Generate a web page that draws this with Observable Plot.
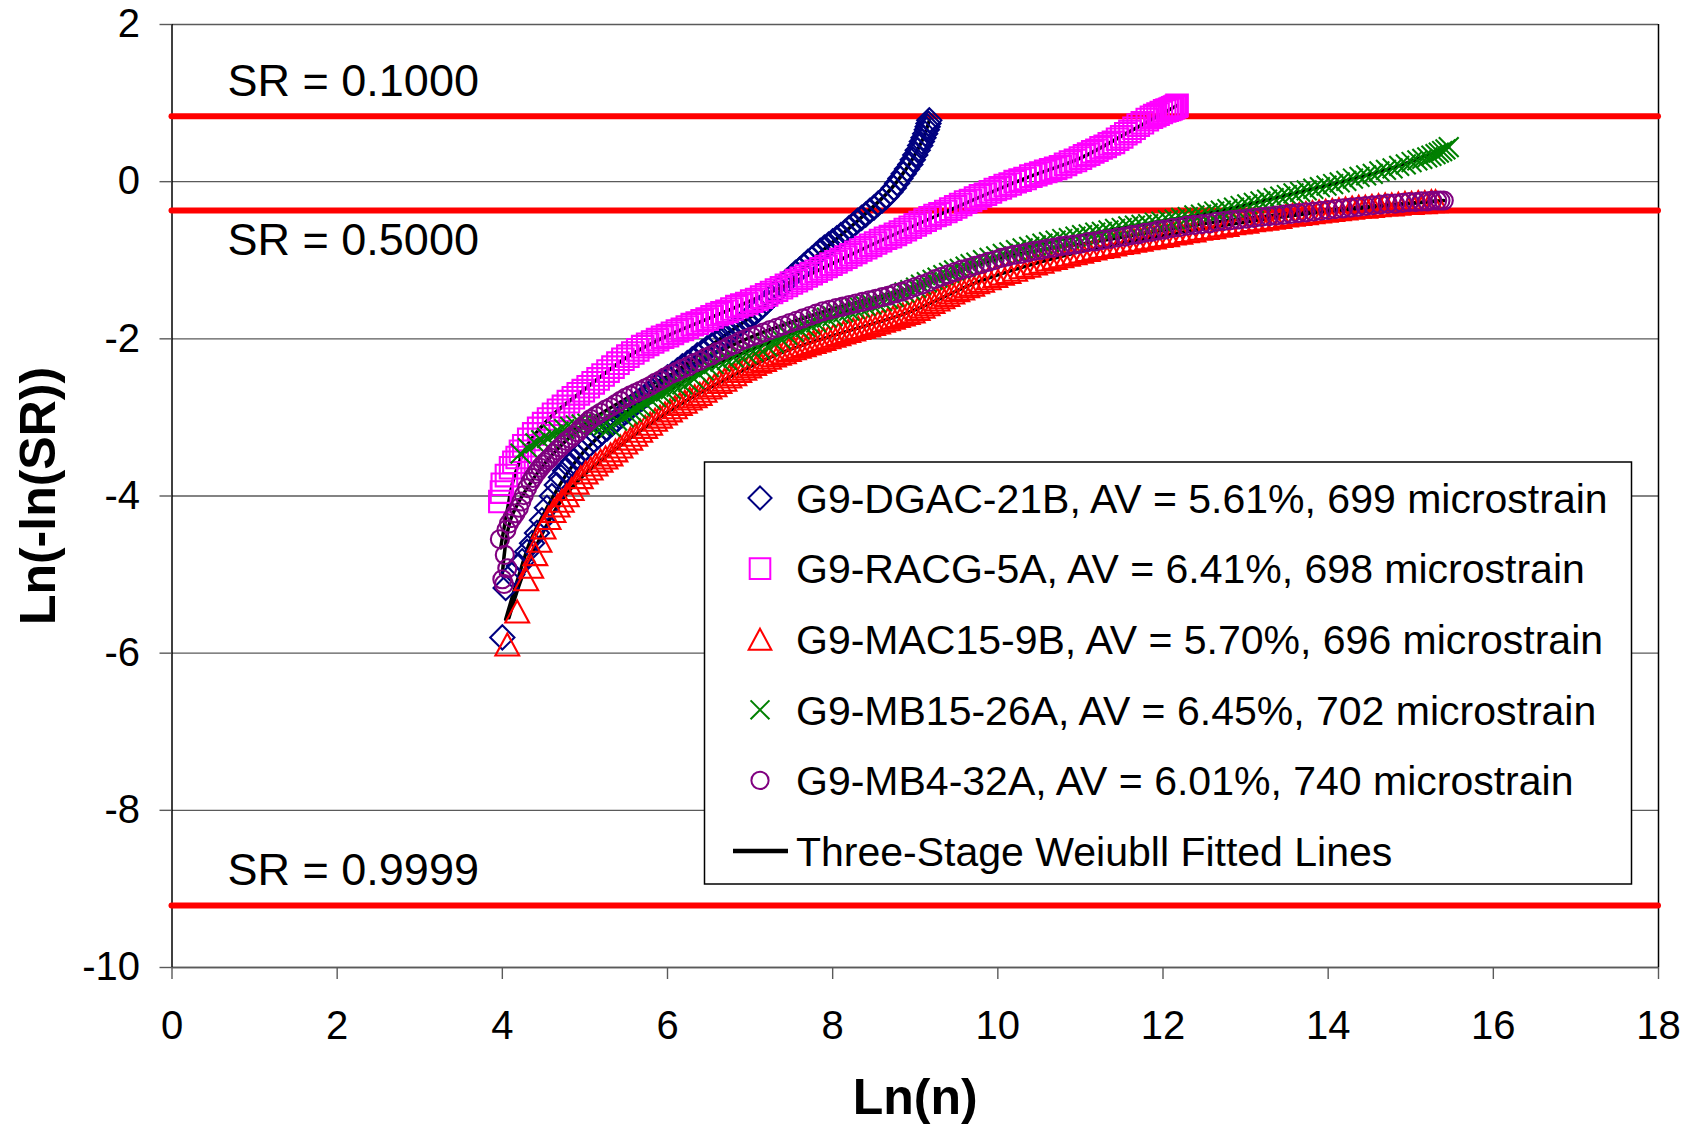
<!DOCTYPE html>
<html>
<head>
<meta charset="utf-8">
<script src="https://cdn.jsdelivr.net/npm/d3@7"></script>
<script src="https://cdn.jsdelivr.net/npm/@observablehq/plot@0.6"></script>
<style>
  html, body { margin: 0; padding: 0; background: #fff; }
  #chart { width: 1694px; height: 1127px; }
</style>
</head>
<body>
<div id="chart"></div>
<script>
// Three-stage Weibull plot of fatigue data: Ln(n) against Ln(-Ln(SR))

// Sample descriptions shown in the legend
const sampleNames = ["G9-DGAC-21B", "G9-RACG-5A", "G9-MAC15-9B", "G9-MB15-26A", "G9-MB4-32A"];
const airVoids = [5.61, 6.41, 5.70, 6.45, 6.01];
const microstrains = [699, 698, 696, 702, 740];
const fitLabel = "Three-Stage Weiubll Fitted Lines";

// Axis ticks
const xTicks = [0, 2, 4, 6, 8, 10, 12, 14, 16, 18];
const yTicks = [2, 0, -2, -4, -6, -8, -10];

// Stiffness ratio reference levels
const srLevels = [0.1, 0.5, 0.9999];

// Measured points: [Ln(n), Ln(-Ln(SR))]
const dgacPoints = [[4.00,-5.80],[4.04,-5.17],[4.12,-5.00],[4.20,-4.89],[4.24,-4.83],[4.30,-4.71],[4.36,-4.60],[4.42,-4.47],[4.48,-4.31],[4.54,-4.15],[4.60,-4.00],[4.66,-3.86],[4.71,-3.76],[4.76,-3.68],[4.81,-3.62],[4.86,-3.56],[4.91,-3.50],[4.96,-3.44],[5.01,-3.39],[5.06,-3.34],[5.11,-3.29],[5.16,-3.24],[5.21,-3.19],[5.27,-3.14],[5.33,-3.08],[5.39,-3.03],[5.45,-2.97],[5.51,-2.92],[5.57,-2.86],[5.63,-2.81],[5.69,-2.76],[5.75,-2.71],[5.81,-2.66],[5.87,-2.60],[5.93,-2.55],[6.00,-2.49],[6.06,-2.45],[6.12,-2.40],[6.18,-2.35],[6.24,-2.31],[6.30,-2.26],[6.36,-2.21],[6.42,-2.17],[6.48,-2.12],[6.54,-2.08],[6.60,-2.03],[6.65,-1.99],[6.70,-1.96],[6.75,-1.92],[6.80,-1.88],[6.85,-1.84],[6.90,-1.80],[6.95,-1.76],[7.00,-1.72],[7.05,-1.68],[7.10,-1.63],[7.15,-1.58],[7.20,-1.53],[7.25,-1.48],[7.30,-1.42],[7.35,-1.37],[7.40,-1.31],[7.45,-1.26],[7.50,-1.21],[7.55,-1.16],[7.60,-1.12],[7.65,-1.07],[7.70,-1.02],[7.75,-0.98],[7.80,-0.93],[7.85,-0.88],[7.90,-0.84],[7.95,-0.80],[8.00,-0.76],[8.05,-0.72],[8.10,-0.68],[8.15,-0.64],[8.20,-0.59],[8.25,-0.55],[8.30,-0.50],[8.35,-0.46],[8.40,-0.42],[8.45,-0.37],[8.50,-0.33],[8.55,-0.28],[8.60,-0.24],[8.65,-0.19],[8.70,-0.13],[8.74,-0.08],[8.78,-0.02],[8.82,0.04],[8.86,0.10],[8.90,0.16],[8.94,0.22],[8.97,0.28],[9.00,0.34],[9.03,0.40],[9.06,0.46],[9.08,0.51],[9.10,0.56],[9.12,0.61],[9.14,0.66],[9.15,0.70],[9.16,0.74],[9.17,0.78]];

const racgPoints = [[3.97,-4.07],[3.99,-3.95],[4.00,-3.85],[4.05,-3.74],[4.10,-3.64],[4.14,-3.57],[4.18,-3.51],[4.22,-3.43],[4.26,-3.36],[4.32,-3.28],[4.38,-3.21],[4.44,-3.14],[4.50,-3.08],[4.56,-3.02],[4.62,-2.96],[4.68,-2.91],[4.74,-2.86],[4.80,-2.80],[4.86,-2.75],[4.92,-2.70],[4.98,-2.66],[5.04,-2.61],[5.10,-2.56],[5.16,-2.51],[5.22,-2.46],[5.28,-2.41],[5.34,-2.36],[5.40,-2.31],[5.46,-2.26],[5.52,-2.22],[5.58,-2.18],[5.64,-2.14],[5.70,-2.10],[5.76,-2.07],[5.82,-2.04],[5.88,-2.01],[5.94,-1.98],[6.00,-1.96],[6.06,-1.93],[6.12,-1.90],[6.18,-1.88],[6.24,-1.85],[6.30,-1.82],[6.36,-1.80],[6.42,-1.77],[6.48,-1.75],[6.54,-1.72],[6.60,-1.69],[6.66,-1.67],[6.72,-1.65],[6.78,-1.62],[6.84,-1.59],[6.90,-1.57],[6.96,-1.55],[7.02,-1.52],[7.08,-1.50],[7.14,-1.47],[7.20,-1.44],[7.26,-1.41],[7.32,-1.38],[7.38,-1.35],[7.44,-1.32],[7.50,-1.29],[7.56,-1.26],[7.62,-1.23],[7.68,-1.20],[7.74,-1.17],[7.80,-1.14],[7.86,-1.11],[7.92,-1.08],[7.98,-1.05],[8.04,-1.02],[8.10,-0.99],[8.16,-0.96],[8.22,-0.93],[8.28,-0.90],[8.34,-0.87],[8.40,-0.84],[8.46,-0.81],[8.52,-0.78],[8.58,-0.75],[8.64,-0.72],[8.70,-0.70],[8.76,-0.67],[8.82,-0.64],[8.88,-0.61],[8.94,-0.58],[9.00,-0.55],[9.06,-0.52],[9.12,-0.49],[9.18,-0.46],[9.24,-0.43],[9.30,-0.41],[9.37,-0.38],[9.43,-0.35],[9.49,-0.32],[9.55,-0.29],[9.61,-0.26],[9.67,-0.24],[9.73,-0.21],[9.79,-0.18],[9.85,-0.16],[9.91,-0.13],[9.97,-0.10],[10.03,-0.08],[10.09,-0.05],[10.15,-0.03],[10.21,0.00],[10.27,0.02],[10.33,0.04],[10.40,0.07],[10.46,0.09],[10.52,0.11],[10.58,0.13],[10.64,0.15],[10.70,0.17],[10.76,0.19],[10.82,0.22],[10.88,0.25],[10.94,0.27],[11.00,0.30],[11.05,0.33],[11.10,0.35],[11.15,0.38],[11.20,0.40],[11.25,0.43],[11.30,0.45],[11.35,0.48],[11.40,0.50],[11.45,0.54],[11.50,0.57],[11.55,0.61],[11.60,0.64],[11.65,0.68],[11.70,0.72],[11.75,0.75],[11.81,0.79],[11.86,0.82],[11.90,0.84],[11.94,0.86],[11.98,0.88],[12.02,0.90],[12.05,0.91],[12.08,0.92],[12.10,0.93],[12.12,0.94],[12.14,0.95],[12.16,0.96],[12.17,0.97]];

const mac15Points = [[4.06,-5.89],[4.18,-5.47],[4.29,-5.06],[4.35,-4.90],[4.40,-4.74],[4.45,-4.57],[4.50,-4.40],[4.56,-4.28],[4.62,-4.19],[4.67,-4.12],[4.72,-4.06],[4.78,-3.99],[4.84,-3.91],[4.90,-3.83],[4.95,-3.76],[5.01,-3.70],[5.07,-3.65],[5.13,-3.60],[5.19,-3.55],[5.25,-3.51],[5.31,-3.47],[5.37,-3.42],[5.43,-3.37],[5.49,-3.32],[5.55,-3.27],[5.61,-3.22],[5.67,-3.17],[5.73,-3.12],[5.79,-3.08],[5.85,-3.03],[5.91,-2.99],[5.97,-2.95],[6.03,-2.91],[6.09,-2.87],[6.15,-2.83],[6.21,-2.80],[6.27,-2.76],[6.33,-2.73],[6.39,-2.70],[6.45,-2.66],[6.51,-2.62],[6.57,-2.59],[6.63,-2.55],[6.69,-2.52],[6.75,-2.48],[6.81,-2.45],[6.87,-2.41],[6.93,-2.38],[6.99,-2.35],[7.05,-2.32],[7.11,-2.29],[7.17,-2.27],[7.23,-2.24],[7.29,-2.21],[7.35,-2.19],[7.41,-2.17],[7.47,-2.14],[7.53,-2.12],[7.59,-2.10],[7.65,-2.08],[7.71,-2.06],[7.77,-2.04],[7.83,-2.02],[7.89,-2.00],[7.95,-1.98],[8.01,-1.96],[8.07,-1.94],[8.13,-1.92],[8.19,-1.90],[8.25,-1.88],[8.31,-1.86],[8.37,-1.85],[8.43,-1.83],[8.49,-1.81],[8.55,-1.79],[8.61,-1.77],[8.67,-1.75],[8.73,-1.73],[8.79,-1.71],[8.85,-1.69],[8.91,-1.67],[8.97,-1.65],[9.03,-1.62],[9.09,-1.59],[9.15,-1.56],[9.21,-1.53],[9.27,-1.50],[9.33,-1.47],[9.39,-1.44],[9.45,-1.41],[9.51,-1.38],[9.57,-1.36],[9.63,-1.33],[9.69,-1.31],[9.75,-1.28],[9.81,-1.26],[9.89,-1.23],[9.97,-1.20],[10.05,-1.17],[10.13,-1.15],[10.21,-1.12],[10.29,-1.09],[10.37,-1.07],[10.45,-1.04],[10.53,-1.02],[10.61,-0.99],[10.69,-0.97],[10.77,-0.95],[10.85,-0.93],[10.93,-0.91],[11.01,-0.89],[11.09,-0.87],[11.17,-0.85],[11.25,-0.83],[11.33,-0.82],[11.41,-0.80],[11.49,-0.78],[11.57,-0.77],[11.65,-0.75],[11.73,-0.74],[11.81,-0.72],[11.89,-0.71],[11.97,-0.69],[12.05,-0.68],[12.13,-0.66],[12.21,-0.65],[12.29,-0.63],[12.37,-0.62],[12.45,-0.60],[12.53,-0.59],[12.61,-0.58],[12.69,-0.56],[12.77,-0.55],[12.85,-0.53],[12.93,-0.52],[13.01,-0.51],[13.09,-0.49],[13.17,-0.48],[13.25,-0.47],[13.33,-0.46],[13.41,-0.45],[13.49,-0.43],[13.57,-0.42],[13.65,-0.41],[13.73,-0.40],[13.81,-0.39],[13.89,-0.38],[13.97,-0.37],[14.05,-0.36],[14.13,-0.35],[14.21,-0.34],[14.29,-0.33],[14.37,-0.32],[14.45,-0.32],[14.53,-0.31],[14.61,-0.30],[14.69,-0.29],[14.77,-0.29],[14.85,-0.28],[14.93,-0.27],[15.01,-0.27],[15.09,-0.26],[15.17,-0.26],[15.25,-0.25],[15.30,-0.25]];

const mb15Points = [[4.22,-3.46],[4.31,-3.39],[4.40,-3.33],[4.47,-3.29],[4.54,-3.26],[4.61,-3.22],[4.68,-3.18],[4.75,-3.15],[4.82,-3.12],[4.89,-3.10],[4.96,-3.09],[5.03,-3.08],[5.10,-3.08],[5.17,-3.09],[5.23,-3.10],[5.31,-3.12],[5.39,-3.04],[5.47,-3.00],[5.52,-2.96],[5.57,-2.93],[5.62,-2.89],[5.67,-2.86],[5.73,-2.82],[5.80,-2.78],[5.86,-2.74],[5.92,-2.70],[5.98,-2.67],[6.04,-2.64],[6.11,-2.61],[6.18,-2.58],[6.25,-2.55],[6.32,-2.51],[6.38,-2.45],[6.44,-2.40],[6.50,-2.36],[6.56,-2.32],[6.64,-2.29],[6.72,-2.27],[6.80,-2.24],[6.88,-2.22],[6.96,-2.19],[7.04,-2.16],[7.12,-2.13],[7.21,-2.10],[7.29,-2.05],[7.37,-2.00],[7.45,-1.95],[7.53,-1.91],[7.60,-1.88],[7.67,-1.85],[7.73,-1.82],[7.80,-1.79],[7.87,-1.76],[7.93,-1.73],[8.00,-1.71],[8.07,-1.68],[8.13,-1.66],[8.20,-1.64],[8.27,-1.62],[8.33,-1.60],[8.40,-1.58],[8.47,-1.56],[8.53,-1.54],[8.60,-1.52],[8.67,-1.49],[8.74,-1.47],[8.81,-1.44],[8.87,-1.41],[8.94,-1.38],[9.01,-1.35],[9.07,-1.31],[9.14,-1.28],[9.21,-1.25],[9.27,-1.22],[9.34,-1.19],[9.41,-1.16],[9.47,-1.13],[9.54,-1.11],[9.61,-1.08],[9.67,-1.05],[9.74,-1.03],[9.82,-1.00],[9.90,-0.97],[9.98,-0.95],[10.06,-0.92],[10.14,-0.90],[10.22,-0.87],[10.30,-0.85],[10.38,-0.83],[10.46,-0.81],[10.54,-0.79],[10.62,-0.77],[10.70,-0.75],[10.78,-0.73],[10.86,-0.72],[10.94,-0.70],[11.02,-0.68],[11.10,-0.67],[11.18,-0.65],[11.26,-0.64],[11.34,-0.62],[11.42,-0.60],[11.50,-0.59],[11.58,-0.57],[11.66,-0.56],[11.74,-0.55],[11.82,-0.54],[11.90,-0.52],[11.98,-0.51],[12.06,-0.49],[12.14,-0.48],[12.22,-0.46],[12.30,-0.45],[12.38,-0.43],[12.46,-0.42],[12.54,-0.40],[12.62,-0.38],[12.70,-0.37],[12.78,-0.35],[12.86,-0.33],[12.94,-0.31],[13.02,-0.29],[13.10,-0.27],[13.18,-0.25],[13.26,-0.23],[13.34,-0.21],[13.42,-0.19],[13.50,-0.17],[13.58,-0.15],[13.66,-0.13],[13.74,-0.11],[13.82,-0.09],[13.90,-0.07],[13.98,-0.05],[14.06,-0.03],[14.14,-0.01],[14.22,0.01],[14.30,0.04],[14.38,0.06],[14.46,0.08],[14.54,0.10],[14.62,0.13],[14.70,0.15],[14.78,0.17],[14.86,0.20],[14.94,0.22],[15.01,0.25],[15.08,0.27],[15.14,0.29],[15.20,0.31],[15.25,0.33],[15.30,0.35],[15.34,0.37],[15.38,0.39],[15.42,0.41],[15.46,0.44]];

const mb4Points = [[4.02,-5.12],[4.00,-5.06],[4.06,-4.92],[4.03,-4.75],[3.97,-4.55],[4.05,-4.43],[4.08,-4.35],[4.12,-4.28],[4.16,-4.22],[4.20,-4.15],[4.23,-4.07],[4.26,-3.99],[4.30,-3.90],[4.34,-3.82],[4.37,-3.77],[4.40,-3.72],[4.43,-3.68],[4.46,-3.64],[4.49,-3.60],[4.52,-3.57],[4.55,-3.54],[4.58,-3.51],[4.62,-3.46],[4.66,-3.42],[4.70,-3.38],[4.74,-3.34],[4.78,-3.30],[4.82,-3.27],[4.86,-3.23],[4.91,-3.19],[4.95,-3.14],[5.00,-3.09],[5.04,-3.05],[5.07,-3.02],[5.13,-2.98],[5.19,-2.94],[5.25,-2.90],[5.31,-2.87],[5.37,-2.83],[5.43,-2.79],[5.49,-2.75],[5.55,-2.72],[5.61,-2.69],[5.67,-2.66],[5.73,-2.63],[5.79,-2.60],[5.85,-2.56],[5.91,-2.53],[5.97,-2.49],[6.04,-2.45],[6.11,-2.42],[6.18,-2.38],[6.25,-2.35],[6.32,-2.31],[6.39,-2.28],[6.46,-2.24],[6.53,-2.21],[6.60,-2.17],[6.67,-2.14],[6.74,-2.10],[6.81,-2.07],[6.88,-2.03],[6.95,-2.00],[7.02,-1.97],[7.09,-1.95],[7.16,-1.92],[7.24,-1.89],[7.32,-1.86],[7.40,-1.83],[7.48,-1.80],[7.56,-1.77],[7.64,-1.74],[7.72,-1.71],[7.80,-1.68],[7.88,-1.65],[7.96,-1.63],[8.04,-1.61],[8.12,-1.59],[8.20,-1.57],[8.28,-1.55],[8.36,-1.53],[8.44,-1.51],[8.52,-1.49],[8.60,-1.47],[8.68,-1.45],[8.76,-1.42],[8.84,-1.40],[8.92,-1.37],[9.00,-1.34],[9.08,-1.31],[9.16,-1.28],[9.24,-1.24],[9.32,-1.21],[9.40,-1.18],[9.48,-1.15],[9.56,-1.12],[9.64,-1.10],[9.72,-1.07],[9.80,-1.05],[9.88,-1.02],[9.96,-1.00],[10.04,-0.97],[10.12,-0.95],[10.20,-0.93],[10.28,-0.92],[10.36,-0.90],[10.44,-0.88],[10.52,-0.87],[10.60,-0.85],[10.68,-0.84],[10.76,-0.82],[10.84,-0.81],[10.92,-0.80],[11.00,-0.79],[11.09,-0.77],[11.18,-0.76],[11.27,-0.74],[11.36,-0.73],[11.45,-0.71],[11.54,-0.70],[11.62,-0.68],[11.70,-0.67],[11.78,-0.65],[11.86,-0.64],[11.94,-0.62],[12.02,-0.61],[12.11,-0.59],[12.20,-0.58],[12.29,-0.56],[12.38,-0.55],[12.47,-0.54],[12.56,-0.53],[12.65,-0.51],[12.74,-0.50],[12.83,-0.49],[12.92,-0.48],[13.01,-0.47],[13.10,-0.46],[13.19,-0.45],[13.28,-0.44],[13.37,-0.43],[13.46,-0.42],[13.55,-0.41],[13.64,-0.40],[13.73,-0.39],[13.82,-0.38],[13.91,-0.37],[14.00,-0.36],[14.09,-0.35],[14.18,-0.34],[14.27,-0.33],[14.36,-0.32],[14.45,-0.31],[14.54,-0.30],[14.63,-0.29],[14.72,-0.28],[14.81,-0.28],[14.90,-0.27],[14.98,-0.26],[15.06,-0.26],[15.13,-0.25],[15.20,-0.25],[15.26,-0.24],[15.32,-0.24],[15.36,-0.24],[15.40,-0.24]];

// Three-stage Weibull fitted curves
const dgacFit = [[4.04,-5.57],[4.18,-5.08],[4.34,-4.57],[4.54,-4.15],[4.76,-3.75],[5.00,-3.42],[5.40,-3.03],[6.00,-2.50],[6.60,-2.03],[7.20,-1.56],[7.80,-0.95],[8.30,-0.50],[8.70,-0.10],[8.95,0.26],[9.10,0.56],[9.17,0.78]];
const racgFit = [[3.98,-4.66],[4.06,-4.18],[4.14,-3.77],[4.30,-3.36],[4.60,-2.98],[5.00,-2.64],[5.50,-2.24],[6.00,-1.96],[6.80,-1.61],[7.60,-1.24],[8.50,-0.79],[9.40,-0.37],[10.30,0.03],[11.00,0.30],[11.60,0.64],[12.17,0.97]];
const mac15Fit = [[4.08,-5.55],[4.25,-5.00],[4.45,-4.55],[4.70,-4.08],[5.00,-3.72],[5.50,-3.30],[6.00,-2.93],[6.60,-2.57],[7.30,-2.21],[8.00,-1.96],[8.90,-1.67],[9.80,-1.26],[11.00,-0.89],[12.20,-0.65],[13.50,-0.44],[15.30,-0.25]];
const mb15Fit = [[4.22,-3.46],[4.60,-3.22],[5.20,-3.06],[5.80,-2.78],[6.50,-2.37],[7.30,-2.02],[8.20,-1.64],[9.20,-1.26],[10.30,-0.85],[11.50,-0.59],[12.70,-0.37],[13.70,-0.12],[14.70,0.15],[15.46,0.44]];
const mb4Fit = [[4.00,-5.00],[4.10,-4.30],[4.30,-3.90],[4.60,-3.48],[5.00,-3.09],[5.60,-2.70],[6.30,-2.32],[7.10,-1.94],[8.00,-1.62],[9.00,-1.34],[10.00,-0.98],[11.20,-0.76],[12.60,-0.52],[14.00,-0.36],[15.40,-0.24]];

// Marker shapes: hollow symbols drawn from the dot radius
const shape = fn => ({ draw(ctx, size) { fn(ctx, Math.sqrt(size / Math.PI)); } });
const diamondShape = shape((c, r) => { const a = r * 1.1; c.moveTo(0, -a); c.lineTo(a, 0); c.lineTo(0, a); c.lineTo(-a, 0); c.closePath(); });
const squareShape = shape((c, r) => { const a = r * 0.98; c.moveTo(-a, -a); c.lineTo(a, -a); c.lineTo(a, a); c.lineTo(-a, a); c.closePath(); });
const triangleShape = shape((c, r) => { const a = r * 1.08, h = r; c.moveTo(0, -h); c.lineTo(a, h); c.lineTo(-a, h); c.closePath(); });
const timesShape = shape((c, r) => { const a = r * 0.9; c.moveTo(-a, -a); c.lineTo(a, a); c.moveTo(a, -a); c.lineTo(-a, a); });
const circleShape = shape((c, r) => { const a = r * 0.82; c.moveTo(a, 0); c.arc(0, 0, a, 0, 2 * Math.PI); c.closePath(); });

const series = [
  { points: dgacPoints, fit: dgacFit, color: "#000080", symbol: diamondShape },
  { points: racgPoints, fit: racgFit, color: "#ff00ff", symbol: squareShape },
  { points: mac15Points, fit: mac15Fit, color: "#ff0000", symbol: triangleShape },
  { points: mb15Points, fit: mb15Fit, color: "#008000", symbol: timesShape },
  { points: mb4Points, fit: mb4Fit, color: "#800080", symbol: circleShape }
];

const srY = s => Math.log(-Math.log(s));
const fontFamily = "'Liberation Sans', Arial, Helvetica, sans-serif";
const gridColor = "#5a5a5a";
const markerR = 11;
const legendMarkerR = 10.5;

const plot = Plot.plot({
  width: 1694,
  height: 1127,
  marginLeft: 171.5,
  marginRight: 36,
  marginTop: 24,
  marginBottom: 160,
  x: { domain: [0, 18] },
  y: { domain: [-10, 2] },
  style: { fontFamily, fontSize: "40px", color: "#000", background: "#fff", overflow: "visible" },
  marks: [
    Plot.gridY(yTicks, { stroke: gridColor, strokeOpacity: 1, strokeWidth: 1.4 }),
    Plot.ruleX([18], { stroke: "#000", strokeWidth: 1.5 }),
    Plot.ruleY([-10], { stroke: gridColor, strokeWidth: 1.6 }),
    Plot.ruleX([0], { stroke: "#000", strokeWidth: 1.5 }),
    Plot.axisY(yTicks, { tickSize: 12, tickPadding: 20, stroke: gridColor, strokeWidth: 1.4, fill: "#000", fontSize: 40, tickFormat: d => String(d), label: null }),
    Plot.axisX(xTicks, { tickSize: 12, tickPadding: 31, stroke: gridColor, strokeWidth: 1.4, fill: "#000", fontSize: 40, tickFormat: d => String(d), label: null }),
    // stiffness ratio reference lines
    Plot.ruleY(srLevels, { y: srY, stroke: "#ff0000", strokeWidth: 6, strokeLinecap: "round" }),
    ...srLevels.map(s => Plot.text([s], {
      y: srY, frameAnchor: "left", dx: 55.5, dy: s === 0.5 ? 30 : -35,
      text: d => `SR = ${d.toFixed(4)}`, textAnchor: "start", lineAnchor: "middle", fontSize: 45, fill: "#000"
    })),
    // fitted curves under the markers
    ...series.map(s => Plot.line(s.fit, { x: d => d[0], y: d => d[1], stroke: "#000", strokeWidth: 3.5, curve: "catmull-rom" })),
    // measured points
    ...series.map(s => Plot.dot(s.points, {
      x: d => d[0], y: d => d[1], r: markerR, symbol: s.symbol,
      stroke: s.color, fill: "none", strokeWidth: 2.1
    })),
    // axis titles
    Plot.text(["Ln(n)"], { frameAnchor: "bottom", dy: 130, lineAnchor: "middle", textAnchor: "middle", text: d => d, fontSize: 50, fontWeight: "bold", fill: "#000" }),
    Plot.text(["Ln(-ln(SR))"], { frameAnchor: "left", dx: -133.5, rotate: -90, lineAnchor: "middle", textAnchor: "middle", text: d => d, fontSize: 50, fontWeight: "bold", fill: "#000" })
  ]
});

document.getElementById("chart").appendChild(plot);

// Legend box inside the plotting area
const legendLabels = sampleNames.map((n, i) => `${n}, AV = ${airVoids[i].toFixed(2)}%, ${microstrains[i]} microstrain`);
const svg = d3.select(plot);
const lg = svg.append("g").attr("transform", "translate(704.5,462)");
lg.append("rect").attr("width", 927).attr("height", 422)
  .attr("fill", "#fff").attr("stroke", "#000").attr("stroke-width", 1.5);
const rowY = i => 36 + i * 70.6;
const addLabel = (i, text) => lg.append("text")
  .attr("x", 91.5).attr("y", rowY(i)).attr("dy", "0.36em")
  .attr("text-anchor", "start")
  .attr("font-family", fontFamily).attr("font-size", 41).attr("fill", "#000")
  .text(text);
series.forEach((s, i) => {
  lg.append("path")
    .attr("transform", `translate(55.5,${rowY(i)})`)
    .attr("d", d3.symbol(s.symbol, legendMarkerR * legendMarkerR * Math.PI)())
    .attr("fill", "none").attr("stroke", s.color).attr("stroke-width", 2);
  addLabel(i, legendLabels[i]);
});
lg.append("line").attr("x1", 28.5).attr("x2", 83.5)
  .attr("y1", rowY(5)).attr("y2", rowY(5))
  .attr("stroke", "#000").attr("stroke-width", 4.5);
addLabel(5, fitLabel);
</script>
</body>
</html>
